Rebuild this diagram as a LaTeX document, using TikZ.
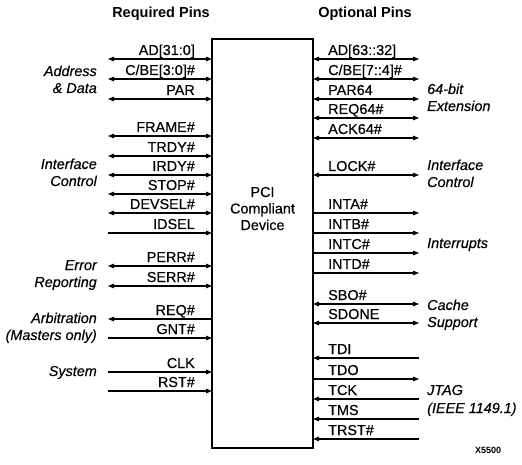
\documentclass[tikz,border=0pt]{standalone}
\usepackage{fontspec}
\setmainfont{Liberation Sans}
\newfontfamily\medfont{Liberation Sans}[FakeBold=0.4]
\usetikzlibrary{arrows.meta}
\begin{document}
\begin{tikzpicture}[x=1pt,y=-1pt,
  pinline/.style={line width=1.1pt},
  tipBoth/.style={pinline,{Triangle[length=6pt,width=4.5pt]}-{Triangle[length=6pt,width=4.5pt]}},
  tipEnd/.style={pinline,-{Triangle[length=6pt,width=4.5pt]}},
  tipStart/.style={pinline,{Triangle[length=6pt,width=4.5pt]}-},
  plabel/.style={font=\medfont\fontsize{14.4}{16}\selectfont, inner sep=0pt},
  llab/.style={plabel, anchor=base east},
  rlab/.style={plabel, anchor=base west},
  grp/.style={font=\medfont\fontsize{14.4}{16}\selectfont\itshape, inner sep=0pt},
  lgrp/.style={grp, anchor=base east},
  rgrp/.style={grp, anchor=base west},
  head/.style={font=\fontsize{14.5}{16}\selectfont\bfseries, inner sep=0pt, anchor=base}]
\useasboundingbox (0,0) rectangle (522,465);

% headers
\node[head] (hreq) at (161,18) {Required Pins};
\node[head] (hopt) at (365,18) {Optional Pins};

% device box
\node[draw, line width=2.5pt, minimum width=101pt, minimum height=409pt,
      inner sep=0pt, outer sep=0pt] (dev) at (262.5,243.5) {};
\node[plabel, anchor=base] (t1) at (262.5,197) {PCI};
\node[plabel, anchor=base] (t2) at (262.5,213.5) {Compliant};
\node[plabel, anchor=base] (t3) at (262.5,230) {Device};

% left pins: line drawn from free end to box
\foreach \n/\y/\s/\t in {
  a/59/tipBoth/{AD[31:0]},
  b/79/tipBoth/{C/BE[3:0]\#},
  c/99/tipBoth/{PAR},
  d/136/tipBoth/{FRAME\#},
  e/156/tipBoth/{TRDY\#},
  f/175/tipBoth/{IRDY\#},
  g/194/tipBoth/{STOP\#},
  h/213/tipBoth/{DEVSEL\#},
  i/233/tipEnd/{IDSEL},
  j/266/tipBoth/{PERR\#},
  k/286/tipBoth/{SERR\#},
  l/319/tipStart/{REQ\#},
  m/338/tipEnd/{GNT\#},
  n/372/tipEnd/{CLK},
  o/391/tipEnd/{RST\#}}{
  \coordinate (L\n) at (108,\y);
  \draw[\s] (L\n) -- (L\n -| dev.west);
  \node[llab] (LT\n) at (195,\y-4) {\t};
}

% right pins: line drawn from box to free end
\foreach \n/\y/\s/\t in {
  a/59/tipBoth/{AD[63::32]},
  b/79/tipBoth/{C/BE[7::4]\#},
  c/99/tipBoth/{PAR64},
  d/118/tipBoth/{REQ64\#},
  e/138/tipBoth/{ACK64\#},
  f/175/tipBoth/{LOCK\#},
  g/213/tipEnd/{INTA\#},
  h/233/tipEnd/{INTB\#},
  i/253/tipEnd/{INTC\#},
  j/273/tipEnd/{INTD\#},
  k/304/tipBoth/{SBO\#},
  l/323/tipBoth/{SDONE},
  m/358/tipStart/{TDI},
  n/379/tipEnd/{TDO},
  o/399/tipStart/{TCK},
  p/419/tipStart/{TMS},
  q/439/tipStart/{TRST\#}}{
  \coordinate (R\n) at (419,\y);
  \draw[\s] (R\n -| dev.east) -- (R\n);
  \node[rlab] (RT\n) at (328,\y-4) {\t};
}

% left group labels
\node[lgrp] (g1a) at (97,76) {Address};
\node[lgrp] (g1b) at (97,93) {\& Data};
\node[lgrp] (g2a) at (97,169) {Interface};
\node[lgrp] (g2b) at (97,186) {Control};
\node[lgrp] (g3a) at (97,270) {Error};
\node[lgrp] (g3b) at (97,287) {Reporting};
\node[lgrp] (g4a) at (97,323) {Arbitration};
\node[lgrp] (g4b) at (97,340) {(Masters only)};
\node[lgrp] (g5a) at (97,376) {System};

% right group labels
\node[rgrp] (h1a) at (427,94) {64-bit};
\node[rgrp] (h1b) at (427,111) {Extension};
\node[rgrp] (h2a) at (427,170) {Interface};
\node[rgrp] (h2b) at (427,187) {Control};
\node[rgrp] (h3a) at (427,248) {Interrupts};
\node[rgrp] (h4a) at (427,310) {Cache};
\node[rgrp] (h4b) at (427,327) {Support};
\node[rgrp] (h5a) at (427,395) {JTAG};
\node[rgrp] (h5b) at (427,413) {(IEEE 1149.1)};

% figure code
\node[font=\fontsize{9}{10}\selectfont\bfseries, inner sep=0pt, anchor=base west] (code) at (475,453) {X5500};
\end{tikzpicture}
\end{document}
